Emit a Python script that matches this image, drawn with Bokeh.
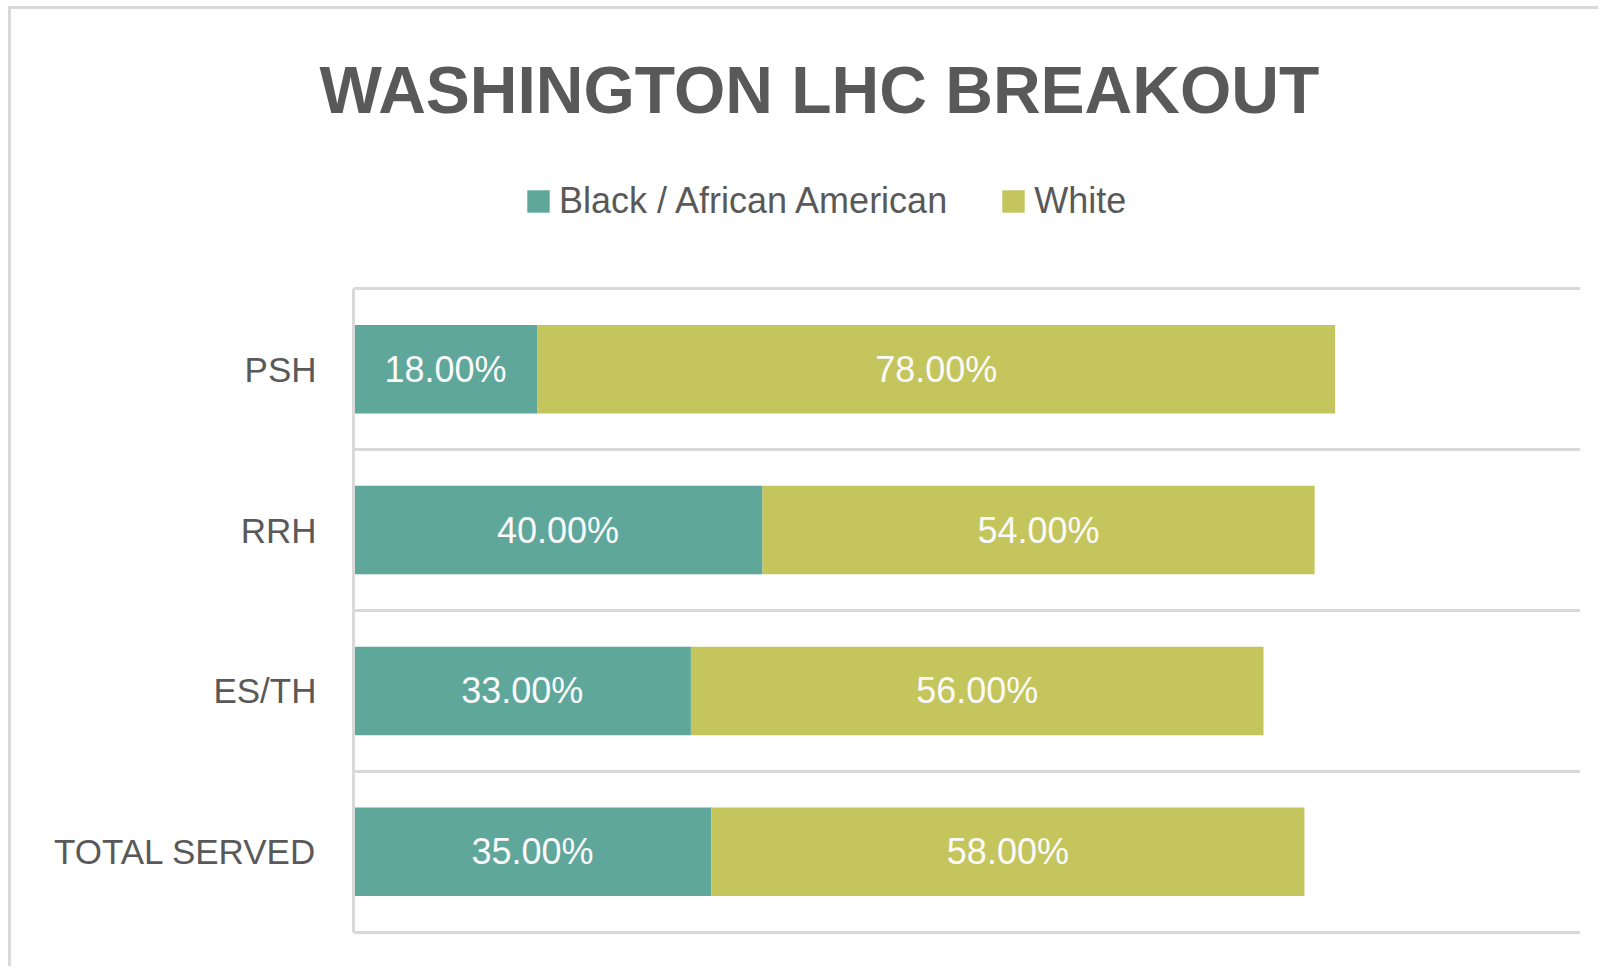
from bokeh.plotting import figure
from bokeh.models import (ColumnDataSource, Range1d, FixedTicker, Grid,
                          Legend, LegendItem, LabelSet)
from bokeh.core.properties import value
from bokeh.embed import file_html
from bokeh.resources import INLINE

# ---- data ----
categories = ["PSH", "RRH", "ES/TH", "TOTAL SERVED"]          # top to bottom
black_pct = [0.18, 0.40, 0.33, 0.35]
white_pct = [0.78, 0.54, 0.56, 0.58]
series_names = ["Black / African American", "White"]
title_text = "WASHINGTON LHC BREAKOUT"

TEAL = "#5FA69B"
OLIVE = "#C5C55D"
GRAY = "#595959"
LIGHT = "#D9D9D9"

n = len(categories)
ypos = [n - i - 0.5 for i in range(n)]  # category centres, first at top

src = ColumnDataSource(dict(
    y=ypos, cat=categories, black=black_pct, white=white_pct,
    white_left=black_pct,
    white_right=[b + w for b, w in zip(black_pct, white_pct)],
    black_mid=[b / 2 for b in black_pct],
    white_mid=[b + w / 2 for b, w in zip(black_pct, white_pct)],
    black_lab=["{:.2f}%".format(b * 100) for b in black_pct],
    white_lab=["{:.2f}%".format(w * 100) for w in white_pct],
))

W, H = 1590, 960
# frame extends above the bars so the legend sits inside it (empty headroom)
p = figure(width=W, height=H, output_backend="svg", toolbar_location=None,
           x_range=Range1d(0, 1.2), y_range=Range1d(-0.02, n + 0.76),
           min_border_left=342, min_border_right=21, min_border_top=157,
           min_border_bottom=34)
p.outline_line_color = None
p.background_fill_color = "white"
p.border_fill_color = "white"
p.margin = (6, 0, 0, 8)
p.styles = {"border-left": "3px solid #D9D9D9",
            "border-top": "3px solid #D9D9D9"}

r1 = p.hbar(y="y", left=0, right="black", height=0.55, source=src,
            fill_color=TEAL, line_color=None)
r2 = p.hbar(y="y", left="white_left", right="white_right", height=0.55,
            source=src, fill_color=OLIVE, line_color=None)

# axes
p.xaxis.visible = False
p.xgrid.visible = False
p.ygrid.visible = False
yax = p.yaxis[0]
yax.bounds = (0, n)
yax.ticker = FixedTicker(ticks=ypos)
yax.major_label_overrides = {y: c for y, c in zip(ypos, categories)}
yax.major_tick_line_color = None
yax.minor_tick_line_color = None
yax.axis_line_color = LIGHT
yax.axis_line_width = 3
yax.major_label_text_font = "Liberation Sans"
yax.major_label_text_font_size = "35px"
yax.major_label_text_color = GRAY
yax.major_label_standoff = 31

# gridlines between categories
grid = Grid(dimension=1, ticker=FixedTicker(ticks=list(range(n + 1))),
            grid_line_color=LIGHT, grid_line_width=3)
p.add_layout(grid, "center")

# data labels
for xcol, tcol in (("black_mid", "black_lab"), ("white_mid", "white_lab")):
    p.add_layout(LabelSet(x=xcol, y="y", text=tcol, source=src,
                          text_align="center", text_baseline="middle",
                          text_color="#FAFAFA", text_font_size="36px",
                          text_font=value("Liberation Sans")))

# title
p.title.text = title_text
p.title.align = "left"
p.title.offset = -34
p.title.standoff = 80
p.title.text_font = "Liberation Sans"
p.title.text_font_style = "bold"
p.title.text_font_size = "66px"
p.title.text_color = GRAY

# legend
legend = Legend(items=[LegendItem(label=series_names[0], renderers=[r1]),
                       LegendItem(label=series_names[1], renderers=[r2])],
                orientation="horizontal", location=(171, 713),
                glyph_width=28, glyph_height=28, label_standoff=7,
                label_height=28, spacing=52, padding=0, margin=0,
                border_line_color=None, background_fill_alpha=0,
                label_text_font="Liberation Sans",
                label_text_font_size="36px", label_text_color=GRAY)
p.add_layout(legend, "center")

open("out.html", "w").write(file_html(p, INLINE))
